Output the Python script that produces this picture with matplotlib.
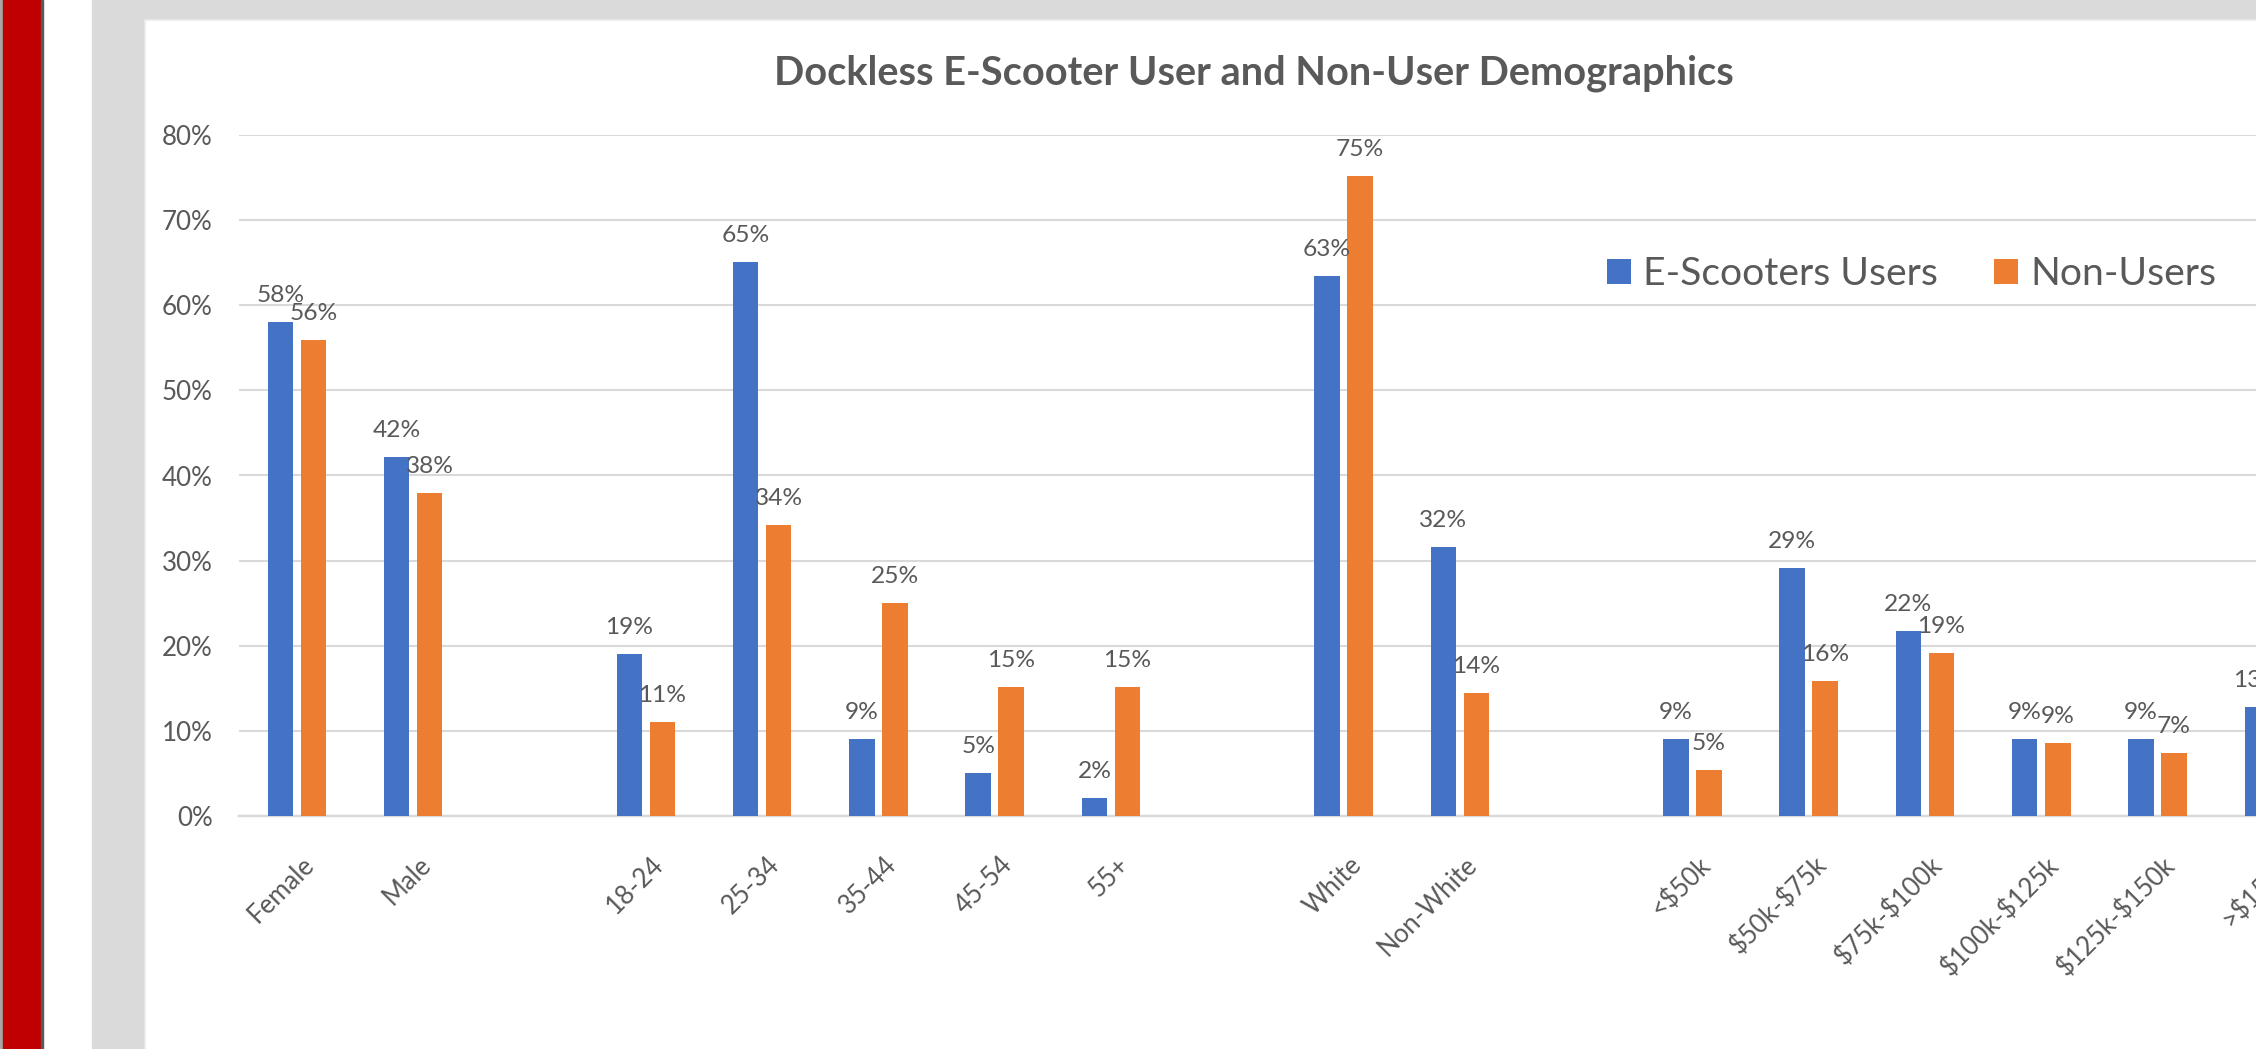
import math
import numpy as np
import matplotlib
matplotlib.use("Agg")
import matplotlib.pyplot as plt
from matplotlib.patches import Rectangle
from matplotlib.transforms import ScaledTranslation

# ---------------- data ----------------
title = "Dockless E-Scooter User and Non-User Demographics"
series_names = ["E-Scooters Users", "Non-Users"]

gender_labels = ["Female", "Male"]
gender_users = [58.0, 42.2]
gender_non = [55.9, 37.9]

age_labels = ["18-24", "25-34", "35-44", "45-54", "55+"]
age_users = [19.0, 65.1, 9.0, 5.1, 2.1]
age_non = [11.0, 34.2, 25.0, 15.1, 15.1]

race_labels = ["White", "Non-White"]
race_users = [63.4, 31.6]
race_non = [75.2, 14.4]

income_labels = ["<$50k", "$50k-$75k", "$75k-$100k", "$100k-$125k", "$125k-$150k", ">$150k"]
income_users = [9.05, 29.1, 21.7, 9.1, 9.1, 12.8]
income_non = [5.4, 15.9, 19.1, 8.6, 7.4, np.nan]  # last value is cut off in the reference

y_ticks = [0, 10, 20, 30, 40, 50, 60, 70, 80]

# ---------------- style ----------------
plt.rcParams["text.parse_math"] = False
plt.rcParams["font.family"] = ["Lato", "DejaVu Sans"]
TXT = "#595959"
BLUE = "#4472C4"
ORANGE = "#ED7D31"
GRID = "#D9D9D9"

W, H, DPI = 2256, 1049, 100
fig = plt.figure(figsize=(W / DPI, H / DPI), dpi=DPI, facecolor="white")
r = fig.canvas.get_renderer()


def fx(px):
    return px / W


def fy(py):
    return 1 - py / H


def fit_size(text, target_px, weight="normal"):
    t = fig.text(0, 0, text, fontsize=20, fontweight=weight)
    w = t.get_window_extent(renderer=r).width
    t.remove()
    return 20 * target_px / w


# background pieces of the screenshot
fig.add_artist(Rectangle((0, 0), fx(3), 1, transform=fig.transFigure, color="#A6A6A6", zorder=-5))
fig.add_artist(Rectangle((fx(3), 0), fx(38), 1, transform=fig.transFigure, color="#C00000", zorder=-5))
fig.add_artist(Rectangle((fx(41), 0), fx(2), 1, transform=fig.transFigure, color="#5A5A5A", zorder=-5))
fig.add_artist(Rectangle((fx(92), 0), 1, 1, transform=fig.transFigure, color="#DADADA", zorder=-5))
fig.add_artist(Rectangle((fx(145), -0.01), 1, fy(20) + 0.01, transform=fig.transFigure,
                         facecolor="white", edgecolor="#EBEBEB", lw=1.2, zorder=-4))

# ---------------- build category slots (blank slot between groups) ----------------
groups = [(gender_labels, gender_users, gender_non),
          (age_labels, age_users, age_non),
          (race_labels, race_users, race_non),
          (income_labels, income_users, income_non)]
categories, users, non_users = [], [], []
for i, (lab, u, n) in enumerate(groups):
    if i > 0:
        categories.append("")
        users.append(np.nan)
        non_users.append(np.nan)
    categories += lab
    users += u
    non_users += n
users = np.array(users, dtype=float)
non_users = np.array(non_users, dtype=float)
x = np.arange(len(categories))

# ---------------- axes ----------------
left_px, right_px, top_px, bot_px = 238.8, 2332.0, 135.0, 816.0
ax = fig.add_axes([fx(left_px), fy(bot_px), (right_px - left_px) / W, (bot_px - top_px) / H])
ax.set_facecolor("none")

bw = 0.219
off = 0.142
b1 = ax.bar(x - off, users, width=bw, color=BLUE, label=series_names[0], zorder=3)
b2 = ax.bar(x + off, non_users, width=bw, color=ORANGE, label=series_names[1], zorder=3)

ax.set_xlim(-0.5, len(categories) - 0.5)
ax.set_ylim(0, 80)
ax.set_yticks(y_ticks)
ax.set_yticklabels([f"{v}%" for v in y_ticks])

tick_fs = fit_size("80%", 51)
lab_fs = fit_size("58%", 48)
cat_fs = fit_size("Female", 82)
title_fs = fit_size(title, 959, "bold")
leg_fs = fit_size("E-Scooters Users", 295)

ax.tick_params(axis="y", length=0, pad=26 * 0.72, labelsize=tick_fs, labelcolor=TXT)
ax.yaxis.grid(True, color=GRID, lw=1.5)
ax.set_axisbelow(True)
for s in ["left", "right", "top"]:
    ax.spines[s].set_visible(False)
ax.spines["bottom"].set_color(GRID)
ax.spines["bottom"].set_linewidth(1.7)

ax.set_xticks(x)
ax.set_xticklabels(categories, rotation=45, ha="right", rotation_mode="anchor",
                   fontsize=cat_fs, color=TXT)
ax.tick_params(axis="x", length=0, pad=36 * 0.72)
shift = ScaledTranslation(5 / DPI, 0, fig.dpi_scale_trans)
for lbl in ax.get_xticklabels():
    lbl.set_transform(lbl.get_transform() + shift)

# data labels
for xs, vals in ((x - off, users), (x + off, non_users)):
    for xi, v in zip(xs, vals):
        if np.isnan(v):
            continue
        ax.annotate(f"{math.floor(v + 0.5)}%", (xi, v), xytext=(0, 20 * 0.72),
                    textcoords="offset points", ha="center", va="baseline",
                    fontsize=lab_fs, color=TXT, zorder=4, annotation_clip=False)

# title
fig.text(fx(1253.5), fy(85), title, ha="center", va="baseline",
         fontsize=title_fs, fontweight="bold", color=TXT)

# legend
leg_px = leg_fs * DPI / 72
fig.legend(handles=[b1, b2], labels=series_names, ncol=2, frameon=False,
           fontsize=leg_fs, labelcolor=TXT, loc="center left",
           bbox_to_anchor=(fx(1607), fy(274)), borderpad=0, borderaxespad=0,
           handlelength=24 / leg_px, handleheight=24 / leg_px,
           handletextpad=12 / leg_px, columnspacing=56 / leg_px)

fig.savefig("out.png", dpi=DPI, facecolor="white")
